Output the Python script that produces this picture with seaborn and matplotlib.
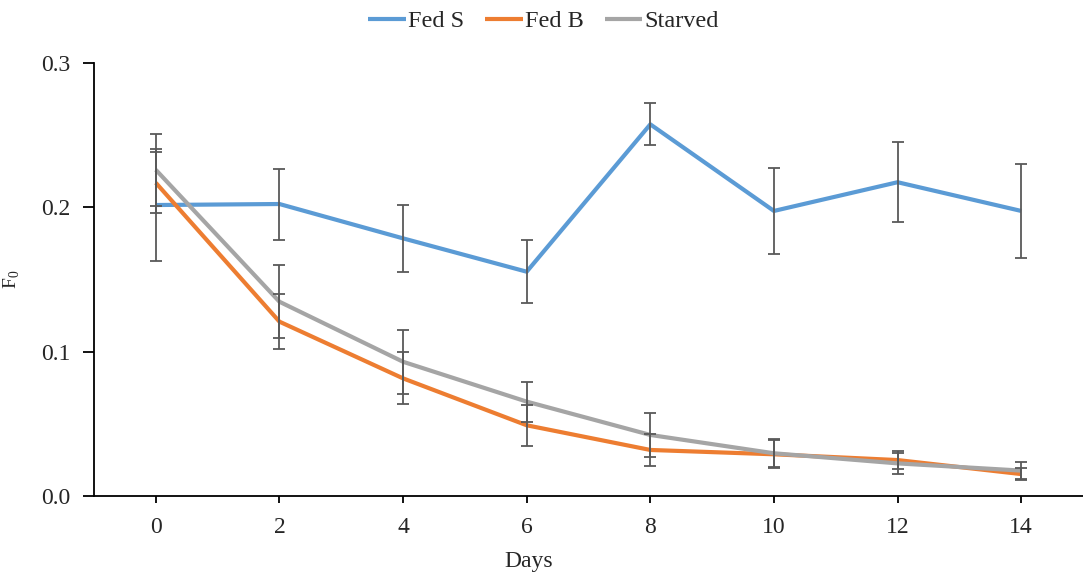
import numpy as np
import pandas as pd
import seaborn as sns
import matplotlib
matplotlib.use("Agg")
import matplotlib.pyplot as plt

# Fluorescence (F0) over time for three feeding treatments
days = [0, 2, 4, 6, 8, 10, 12, 14]
fed_s = [0.2016, 0.2023, 0.1785, 0.1554, 0.2575, 0.1975, 0.2174, 0.1975]
fed_s_err = [0.039, 0.0246, 0.023, 0.022, 0.0146, 0.0295, 0.0279, 0.0324]
fed_b = [0.217, 0.1208, 0.0815, 0.049, 0.0319, 0.0289, 0.0249, 0.0152]
fed_b_err = [0.021, 0.019, 0.018, 0.0143, 0.011, 0.0098, 0.0065, 0.004]
starved = [0.226, 0.1346, 0.093, 0.0654, 0.0423, 0.0296, 0.0226, 0.0176]
starved_err = [0.025, 0.0254, 0.022, 0.0139, 0.015, 0.0098, 0.0075, 0.006]

series_names = ["Fed S", "Fed B", "Starved"]
colors = ["#5B9BD5", "#ED7D31", "#A5A5A5"]

df = pd.DataFrame({
    "Days": days * 3,
    "F0": fed_s + fed_b + starved,
    "err": fed_s_err + fed_b_err + starved_err,
    "Group": sum([[n] * len(days) for n in series_names], []),
})

sns.set_theme(style="ticks")
plt.rcParams["font.family"] = ["Liberation Serif", "DejaVu Serif"]
plt.rcParams["mathtext.fontset"] = "custom"
plt.rcParams["mathtext.rm"] = "Liberation Serif"

fig = plt.figure(figsize=(10.83, 5.77), dpi=100)
ax = fig.add_axes([94 / 1083, 81 / 577, 989 / 1083, 433 / 577])

for name, color in zip(series_names, colors):
    sub = df[df["Group"] == name]
    sns.lineplot(data=sub, x="Days", y="F0", color=color, linewidth=3.0,
                 label=name, ax=ax, errorbar=None, solid_capstyle="butt")
    ax.errorbar(sub["Days"], sub["F0"], yerr=sub["err"], fmt="none",
                ecolor="#595959", elinewidth=1.3, capsize=4, capthick=1.3,
                zorder=3)

ax.set_xlim(-1, 15)
ax.set_ylim(0, 0.3)
ax.set_xticks(days)
ax.set_yticks([0.0, 0.1, 0.2, 0.3])
ax.yaxis.set_major_formatter(matplotlib.ticker.FormatStrFormatter("%.1f"))
ax.tick_params(axis="x", direction="out", length=5, width=1.3, pad=10,
               labelsize=17, color="black")
ax.tick_params(axis="y", direction="out", length=8, width=1.3, pad=9,
               labelsize=17, color="black")
for side in ["top", "right"]:
    ax.spines[side].set_visible(False)
for side in ["left", "bottom"]:
    ax.spines[side].set_linewidth(1.3)
    ax.spines[side].set_color("black")

ax.set_xlabel("Days", fontsize=17)
ax.xaxis.set_label_coords(0.440, -0.126)
ax.set_ylabel(r"F$_\mathregular{0}$", fontsize=14, rotation=90)
ax.yaxis.set_label_coords(-0.0725, 0.5)

ax.get_legend().remove()
handles, labels = ax.get_legend_handles_labels()
fig.legend(handles[:3], labels[:3], loc="center", bbox_to_anchor=(0.502, 0.963),
           ncol=3, frameon=False, fontsize=17.5, handlelength=1.55,
           handletextpad=0.1, columnspacing=0.85)

fig.savefig("out.png", dpi=100)
